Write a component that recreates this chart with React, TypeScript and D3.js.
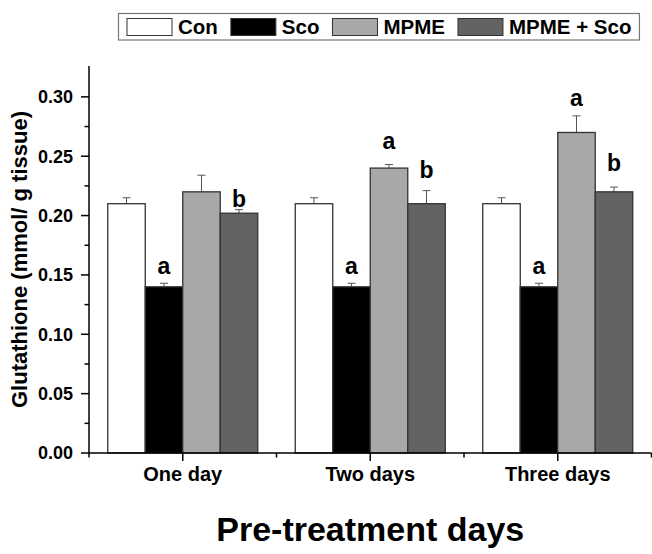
import { useEffect, useRef } from 'react'
import * as d3 from 'd3'

const W = 652
const H = 554
const FONT = "Arial, 'Liberation Sans', sans-serif"

// data
const categories = ['One day', 'Two days', 'Three days']
const seriesNames = ['Con', 'Sco', 'MPME', 'MPME + Sco']
const seriesColors = ['#ffffff', '#000000', '#a8a8a8', '#636363']

const conValues = [0.21, 0.21, 0.21]
const conErrors = [0.005, 0.005, 0.005]
const scoValues = [0.14, 0.14, 0.14]
const scoErrors = [0.003, 0.003, 0.003]
const mpmeValues = [0.22, 0.24, 0.27]
const mpmeErrors = [0.014, 0.003, 0.014]
const mpmeScoValues = [0.202, 0.21, 0.22]
const mpmeScoErrors = [0.003, 0.011, 0.004]

// significance letters and the value at which their baseline sits
const scoLetters = ['a', 'a', 'a']
const scoLetterAt = [0.151, 0.151, 0.151]
const mpmeLetters = ['', 'a', 'a']
const mpmeLetterAt = [0, 0.2561, 0.2923]
const mpmeScoLetters = ['b', 'b', 'b']
const mpmeScoLetterAt = [0.2075, 0.2317, 0.2376]

const yTicks = [0, 0.05, 0.1, 0.15, 0.2, 0.25, 0.3]
const yMinorTicks = [0.025, 0.075, 0.125, 0.175, 0.225, 0.275]

export default function App() {
  const ref = useRef<SVGSVGElement>(null)

  useEffect(() => {
    const svg = d3.select(ref.current)
    svg.selectAll('*').remove()

    const x = d3.scaleLinear().domain([0.5, 3.5]).range([89, 651.5])
    const y = d3.scaleLinear().domain([0, 0.326]).range([453, 66])
    const step = x(2) - x(1)
    const barW = step * 0.2

    const values = [conValues, scoValues, mpmeValues, mpmeScoValues]
    const errors = [conErrors, scoErrors, mpmeErrors, mpmeScoErrors]
    const letters = [null, scoLetters, mpmeLetters, mpmeScoLetters]
    const letterAt = [null, scoLetterAt, mpmeLetterAt, mpmeScoLetterAt]

    const bars = svg.append('g')
    categories.forEach((_, ci) => {
      seriesNames.forEach((_, si) => {
        const v = values[si][ci]
        const e = errors[si][ci]
        const left = x(ci + 1) - barW * 2 + si * barW
        const cx = left + barW / 2
        // error bar (upper whisker only)
        bars.append('line')
          .attr('x1', cx).attr('x2', cx)
          .attr('y1', y(v)).attr('y2', y(v + e))
          .attr('stroke', '#555').attr('stroke-width', 1)
        bars.append('line')
          .attr('x1', cx - 4).attr('x2', cx + 4)
          .attr('y1', y(v + e)).attr('y2', y(v + e))
          .attr('stroke', '#555').attr('stroke-width', 1)
        bars.append('rect')
          .attr('x', left).attr('y', y(v))
          .attr('width', barW).attr('height', y(0) - y(v))
          .attr('fill', seriesColors[si])
          .attr('stroke', '#333').attr('stroke-width', 1.3)
        const lt = letters[si]?.[ci]
        if (lt) {
          bars.append('text')
            .attr('x', cx).attr('y', y(letterAt[si]![ci]))
            .attr('text-anchor', 'middle')
            .attr('font-family', FONT).attr('font-weight', 'bold')
            .attr('font-size', 23).attr('fill', '#000')
            .text(lt)
        }
      })
    })

    // y axis
    const ax = svg.append('g').attr('stroke', '#000').attr('stroke-width', 1.5)
    ax.append('line').attr('x1', x(0.5)).attr('x2', x(0.5)).attr('y1', y(0.326)).attr('y2', y(0))
    yTicks.forEach((t) => {
      ax.append('line').attr('x1', x(0.5) - 8).attr('x2', x(0.5)).attr('y1', y(t)).attr('y2', y(t))
    })
    yMinorTicks.forEach((t) => {
      ax.append('line').attr('x1', x(0.5) - 4.5).attr('x2', x(0.5)).attr('y1', y(t)).attr('y2', y(t))
    })
    // x axis
    ax.append('line').attr('x1', x(0.5)).attr('x2', x(3.5)).attr('y1', y(0)).attr('y2', y(0))
    categories.forEach((_, i) => {
      ax.append('line').attr('x1', x(i + 1)).attr('x2', x(i + 1)).attr('y1', y(0)).attr('y2', y(0) + 8)
    })
    ;[0.5, 1.5, 2.5, 3.5].forEach((t) => {
      ax.append('line').attr('x1', x(t)).attr('x2', x(t)).attr('y1', y(0)).attr('y2', y(0) + 4.5)
    })

    const txt = svg.append('g').attr('font-family', FONT).attr('font-weight', 'bold').attr('fill', '#000')
    yTicks.forEach((t) => {
      txt.append('text')
        .attr('x', 73).attr('y', y(t) + 6.4)
        .attr('text-anchor', 'end').attr('font-size', 18)
        .text(d3.format('.2f')(t))
    })
    categories.forEach((c, i) => {
      txt.append('text')
        .attr('x', x(i + 1)).attr('y', 481)
        .attr('text-anchor', 'middle').attr('font-size', 20)
        .text(c)
    })
    txt.append('text')
      .attr('x', x(2)).attr('y', 541)
      .attr('text-anchor', 'middle').attr('font-size', 34)
      .text('Pre-treatment days')
    txt.append('text')
      .attr('transform', `translate(27, ${(y(0) + y(0.326)) / 2}) rotate(-90)`)
      .attr('text-anchor', 'middle').attr('font-size', 22)
      .text('Glutathione (mmol/ g tissue)')

    // legend
    const lg = svg.append('g')
    const box = lg.append('rect')
      .attr('x', 118.5).attr('y', 13.5).attr('height', 26.5)
      .attr('fill', '#fff').attr('stroke', '#777').attr('stroke-width', 1.2)
    let lx = 127
    seriesNames.forEach((name, i) => {
      lg.append('rect')
        .attr('x', lx).attr('y', 18.5).attr('width', 45).attr('height', 17)
        .attr('fill', seriesColors[i]).attr('stroke', '#333').attr('stroke-width', 1)
      const t = lg.append('text')
        .attr('x', lx + 51).attr('y', 34)
        .attr('font-family', FONT).attr('font-weight', 'bold').attr('font-size', 20.5)
        .text(name)
      const tw = (t.node() as SVGTextElement).getComputedTextLength()
      lx = lx + 51 + tw + (i < seriesNames.length - 1 ? 13 : 8)
    })
    box.attr('width', lx - 118.5)
  }, [])

  return (
    <svg
      ref={ref}
      width={W}
      height={H}
      style={{ position: 'absolute', left: 0, top: 0, background: '#fff' }}
    />
  )
}
